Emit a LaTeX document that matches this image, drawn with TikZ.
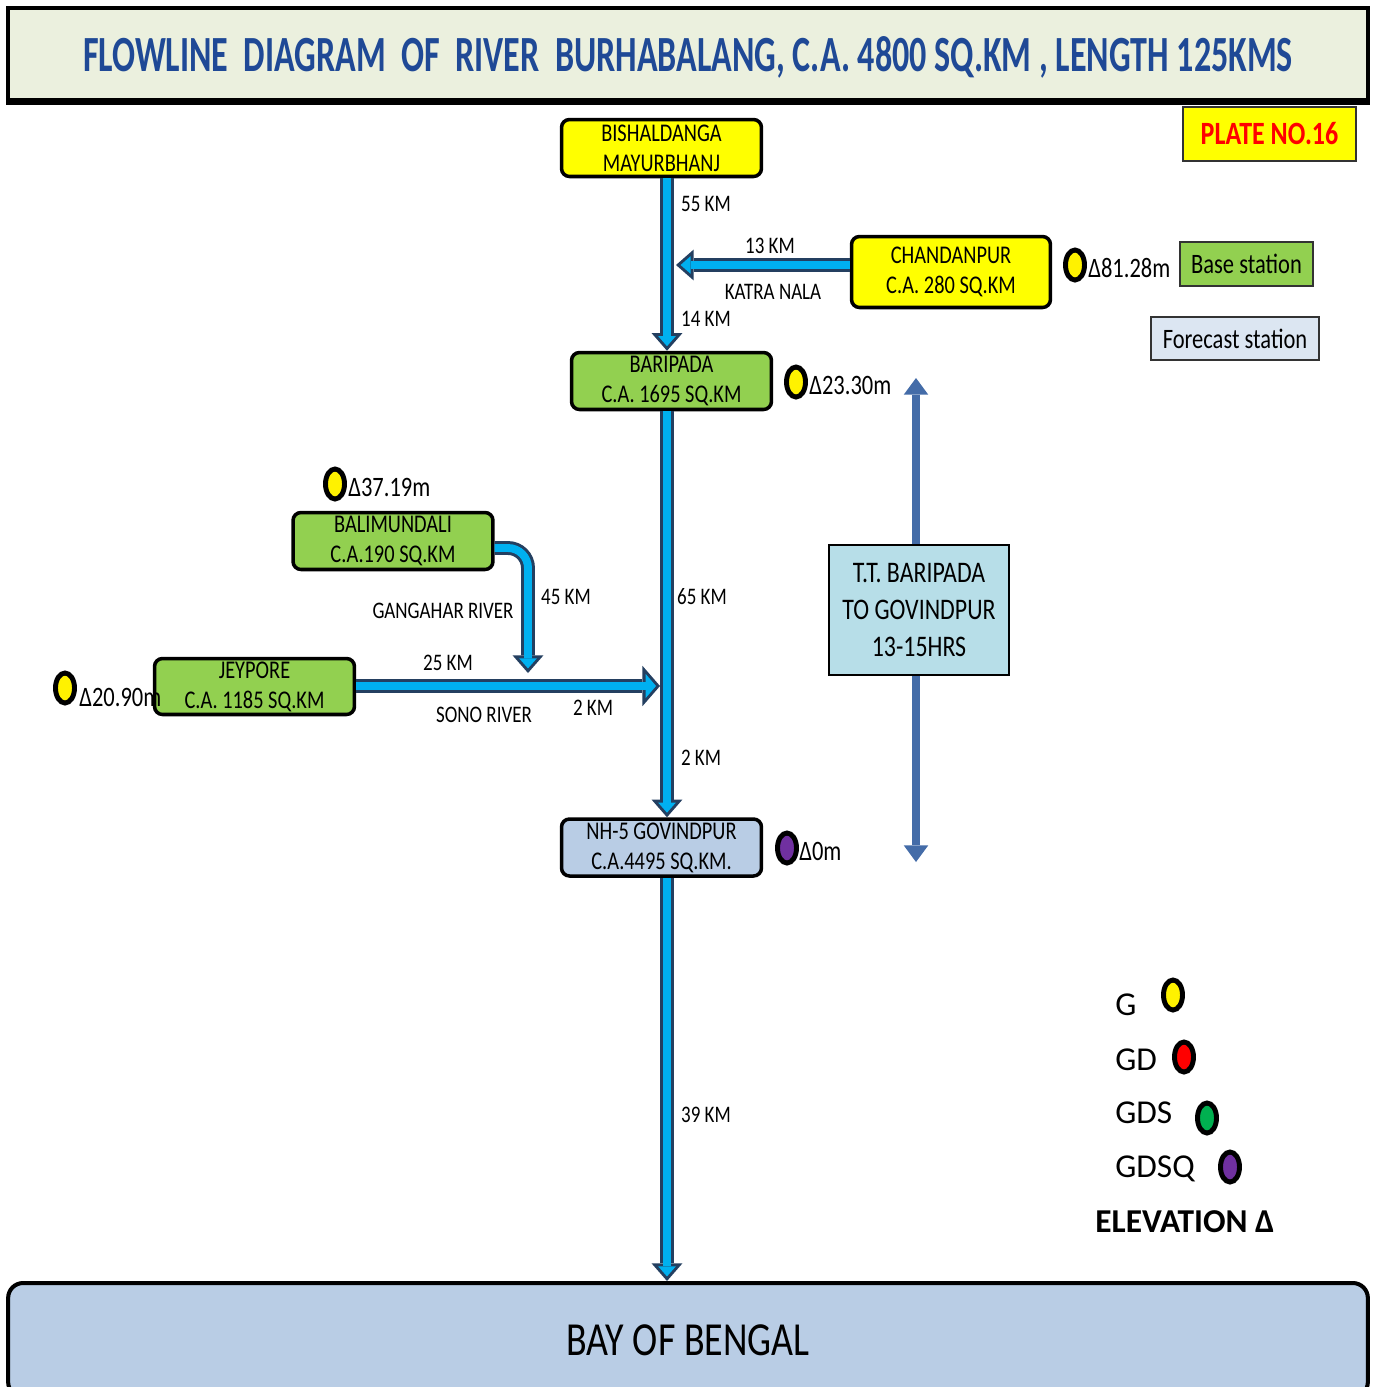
\documentclass[tikz,border=0pt]{standalone}
\usepackage{fontspec}
\usepackage{graphicx}
\setmainfont{Carlito}
\newfontfamily\cfont{Carlito}[FakeStretch=0.8]
\usetikzlibrary{shapes,arrows,positioning,calc,arrows.meta}

\definecolor{titlebg}{RGB}{235,240,222}
\definecolor{titleblue}{RGB}{31,73,150}
\definecolor{boxyellow}{RGB}{255,255,0}
\definecolor{boxgreen}{RGB}{146,208,80}
\definecolor{boxsteel}{RGB}{185,205,229}
\definecolor{boxcyan}{RGB}{183,222,232}
\definecolor{boxpale}{RGB}{220,230,242}
\definecolor{riverblue}{RGB}{0,176,240}
\definecolor{riverdark}{RGB}{36,63,96}
\definecolor{ttblue}{RGB}{68,108,168}
\definecolor{gaugepurple}{RGB}{112,48,160}
\definecolor{gaugegreen}{RGB}{0,176,80}

\begin{document}
\begin{tikzpicture}[x=0.02cm, y=-0.02cm,
    station/.style={draw, line width=2pt, rounded corners=0.16cm, minimum width=4cm, minimum height=1.14cm,
        align=center, inner sep=0pt, font=\cfont\fontsize{14.5}{17}\selectfont},
    tag/.style={draw=black!80, line width=1pt, inner sep=0pt},
    gauge/.style={ellipse, draw, line width=2.8pt, minimum width=0.38cm, minimum height=0.6cm, inner sep=0pt},
    elev/.style={anchor=base west, inner sep=0pt, font=\cfont\fontsize{16}{16}\selectfont},
    km/.style={anchor=base, inner sep=0pt, font=\cfont\fontsize{13.5}{13.5}\selectfont},
    legend/.style={anchor=base west, inner sep=0pt, font=\fontsize{19}{19}\selectfont},
    river/.style={draw=riverdark, line width=7.9pt, -{Triangle[width=17.5pt,length=10pt,line width=0pt]},
        postaction={draw=riverblue, line width=4.5pt, shorten >=2.6pt, -{Triangle[width=10pt,length=5.7pt,line width=0pt]}}},
    bigriver/.style={draw=riverdark, line width=7.9pt, -{Triangle[width=23pt,length=10pt,line width=0pt]},
        postaction={draw=riverblue, line width=4.5pt, shorten >=2.25pt, -{Triangle[width=13.9pt,length=6pt,line width=0pt]}}},
    traveltime/.style={draw=ttblue, line width=4.5pt, -{Triangle[width=14pt,length=9.5pt,line width=0pt]}}
]
\useasboundingbox (0,0) rectangle (1375,1387);

% title and plate
\node[draw, line width=2pt, fill=titlebg, minimum width=27.2cm, minimum height=1.84cm, text=titleblue, text depth=0pt] (title) at (688,54)
    {\resizebox{24.2cm}{0.7cm}{\bfseries FLOWLINE\ \ DIAGRAM\ \ OF\ \ RIVER\ \ BURHABALANG, C.A. 4800 SQ.KM , LENGTH 125KMS}};
\draw[line width=3.5pt] (title.south west) -- (title.south east);
\node[tag, fill=boxyellow, minimum width=3.46cm, minimum height=1.08cm, text=red, font=\cfont\bfseries\fontsize{18.5}{18.5}\selectfont] (plate) at (1269.5,134) {PLATE NO.16};
\node[tag, fill=boxgreen, minimum width=2.66cm, minimum height=0.88cm, font=\cfont\fontsize{16}{16}\selectfont] (base) at (1246.5,264) {Base station};
\node[tag, fill=boxpale, minimum width=3.36cm, minimum height=0.86cm, font=\cfont\fontsize{16}{16}\selectfont] (forecast) at (1235,338.5) {Forecast station};

% stations
\node[station, fill=boxyellow] (bish) at (661.5,148) {BISHALDANGA\\MAYURBHANJ};
\node[station, fill=boxyellow, minimum width=3.98cm, minimum height=1.42cm] (chan) at (951,272) {CHANDANPUR\\C.A. 280 SQ.KM};
\node[station, fill=boxgreen] (bari) at (671.5,381) {BARIPADA\\C.A. 1695 SQ.KM};
\node[station, fill=boxgreen] (bali) at (393,541) {BALIMUNDALI\\C.A.190 SQ.KM};
\node[station, fill=boxgreen, minimum height=1.12cm] (jey) at (254.5,686.5) {JEYPORE\\C.A. 1185 SQ.KM};
\node[station, fill=boxsteel] (nh) at (661.5,847.5) {NH-5 GOVINDPUR\\C.A.4495 SQ.KM.};
\node[draw, line width=2.3pt, fill=boxsteel, rounded corners=0.3cm, minimum width=27.2cm, minimum height=2.28cm, text depth=0pt,
    font=\cfont\fontsize{27}{27}\selectfont] (bay) at (688,1340) {BAY OF BENGAL};

% rivers
\coordinate (rivx) at (667,0);
\coordinate (katraend) at (676,265);
\coordinate (gangrow) at (0,548);
\coordinate (gangend) at (528,673);
\coordinate (sonoend) at (660,686);
\draw[river] (bish.south -| rivx) -- (bari.north -| rivx);
\draw[river] (bari.south -| rivx) -- (nh.north -| rivx);
\draw[river] (nh.south -| rivx) -- (bay.north -| rivx);
\draw[river] (chan.west |- katraend) -- (katraend);
\draw[river, rounded corners=0.4cm] (bali.east |- gangrow) -| (gangend);
\draw[bigriver] (jey.east |- sonoend) -- (sonoend);

% distances and river names
\node[km] (d55) at (706,211) {55 KM};
\node[km] (d13) at (770,253) {13 KM};
\node[km] (katra) at (773,299) {KATRA NALA};
\node[km] (d14) at (706,326) {14 KM};
\node[km] (d65) at (702,604) {65 KM};
\node[km] (d45) at (566,604) {45 KM};
\node[km] (gang) at (443,618) {GANGAHAR RIVER};
\node[km] (d25) at (448,670) {25 KM};
\node[km] (sono) at (484,722) {SONO RIVER};
\node[km] (d2a) at (593,715) {2 KM};
\node[km] (d2b) at (701,765) {2 KM};
\node[km] (d39) at (706,1122) {39 KM};

% gauges and elevations
\node[gauge, fill=yellow] (gchan) at (1075,265) {};
\node[elev] (echan) at (1088,277) {Δ81.28m};
\node[gauge, fill=yellow] (gbari) at (796,382) {};
\node[elev] (ebari) at (809,394) {Δ23.30m};
\node[gauge, fill=yellow] (gbali) at (335,484) {};
\node[elev] (ebali) at (348,496) {Δ37.19m};
\node[gauge, fill=yellow] (gjey) at (65,688) {};
\node[elev] (ejey) at (79,706) {Δ20.90m};
\node[gauge, fill=gaugepurple] (gnh) at (787,848) {};
\node[elev] (enh) at (799,860) {Δ0m};

% travel time
\node[draw, line width=1.5pt, fill=boxcyan, minimum width=3.6cm, minimum height=2.6cm, align=center,
    font=\cfont\fontsize{17}{21}\selectfont] (tt) at (919,610) {T.T. BARIPADA\\TO GOVINDPUR\\13-15HRS};
\coordinate (tttop) at (916,378);
\coordinate (ttbot) at (916,862);
\draw[traveltime] (tt.north -| tttop) -- (tttop);
\draw[traveltime] (tt.south -| ttbot) -- (ttbot);

% legend
\node[legend] (lg) at (1115,1015) {G};
\node[gauge, fill=yellow] (lgg) at (1173,995) {};
\node[legend] (lgd) at (1115,1070) {GD};
\node[gauge, fill=red] (lggd) at (1184,1057) {};
\node[legend] (lgds) at (1115,1123) {GDS};
\node[gauge, fill=gaugegreen] (lggds) at (1207,1118) {};
\node[legend] (lgdsq) at (1115,1177) {GDSQ};
\node[gauge, fill=gaugepurple] (lggdsq) at (1230,1167) {};
\node[legend, font=\bfseries\fontsize{19}{19}\selectfont] (lelev) at (1095,1232) {ELEVATION Δ};
\end{tikzpicture}
\end{document}
